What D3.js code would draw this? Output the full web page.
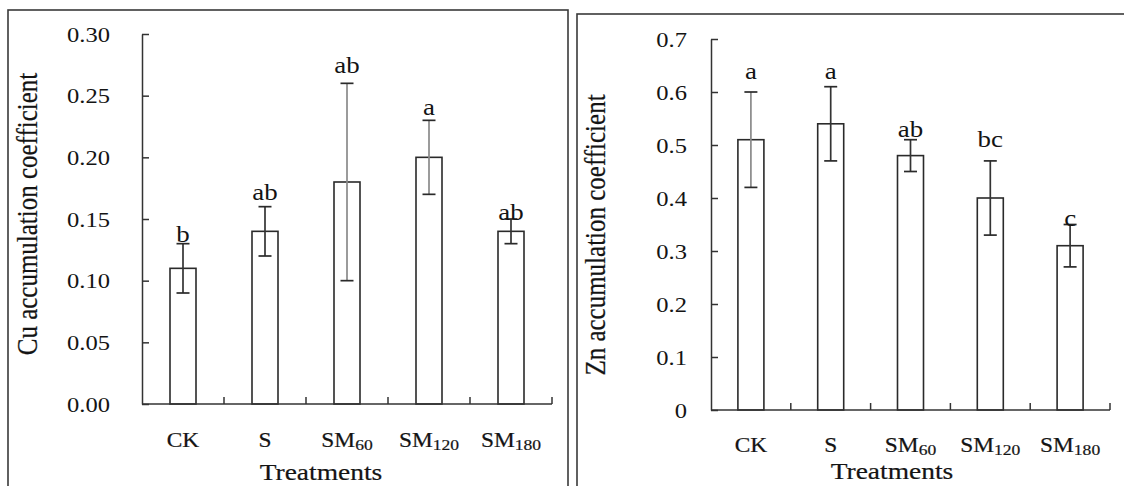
<!DOCTYPE html>
<html>
<head>
<meta charset="utf-8">
<script src="https://cdn.jsdelivr.net/npm/d3@7"></script>
<style>
  html, body { margin: 0; padding: 0; background: #fff; }
  svg { display: block; }
  text { font-family: "Liberation Serif", "Times New Roman", serif; fill: #141414; }
  .heavy { stroke: #141414; stroke-width: 0.2px; }
</style>
</head>
<body>
<svg id="chart" width="1124" height="486"></svg>
<script>
// ---------------- data ----------------
const categories = ["CK", "S", "SM60", "SM120", "SM180"];

const cuMeans   = [0.11, 0.14, 0.18, 0.20, 0.14];
const cuErrLow  = [0.09, 0.12, 0.10, 0.17, 0.13];
const cuErrHigh = [0.13, 0.16, 0.26, 0.23, 0.15];
const cuLetters = ["b", "ab", "ab", "a", "ab"];
const cuTicks   = [0, 0.05, 0.10, 0.15, 0.20, 0.25, 0.30];

const znMeans   = [0.51, 0.54, 0.48, 0.40, 0.31];
const znErrLow  = [0.42, 0.47, 0.45, 0.33, 0.27];
const znErrHigh = [0.60, 0.61, 0.51, 0.47, 0.35];
const znLetters = ["a", "a", "ab", "bc", "c"];
const znTicks   = [0, 0.1, 0.2, 0.3, 0.4, 0.5, 0.6, 0.7];

// ---------------- layout / style ----------------
const SX = 1.17; // horizontal text stretch of the original picture
const svg = d3.select("#chart");

const panels = [
  {
    frame: {x: 8, y: 10, w: 560, h: 520},
    plot: {left: 142, right: 552, top: 34, bottom: 404},
    domain: [0, 0.30], ticks: cuTicks, fmt: d3.format(".2f"), tickPad: 32,
    means: cuMeans, lo: cuErrLow, hi: cuErrHigh, letters: cuLetters,
    errColors: ["#333", "#333", "#8a8a8a", "#8a8a8a", "#333"],
    letterGap: [2, 7, 10, 5, -1],
    catBaseline: 447,
    yTitle: "Cu accumulation coefficient", yTitleX: 37, yTitleY: 214,
    xTitleX: 321, xTitleY: 480
  },
  {
    frame: {x: 577, y: 14, w: 600, h: 520},
    plot: {left: 711, right: 1110, top: 39, bottom: 410},
    domain: [0, 0.7], ticks: znTicks, fmt: d => d === 0 ? "0" : d3.format(".1f")(d), tickPad: 24,
    means: znMeans, lo: znErrLow, hi: znErrHigh, letters: znLetters,
    errColors: ["#8a8a8a", "#333", "#333", "#333", "#333"],
    letterGap: [13, 8, 3, 14, -1],
    catBaseline: 452,
    yTitle: "Zn accumulation coefficient", yTitleX: 605, yTitleY: 235,
    xTitleX: 892, xTitleY: 479
  }
];

function stretchedText(g, x, y, str, size, anchor, cls) {
  return g.append("text")
    .attr("class", cls || null)
    .attr("transform", `translate(${x},${y}) scale(${SX},1)`)
    .attr("text-anchor", anchor || "middle")
    .style("font-size", size + "px")
    .text(str);
}

panels.forEach(p => {
  const g = svg.append("g");

  // frame
  g.append("rect")
    .attr("x", p.frame.x).attr("y", p.frame.y)
    .attr("width", p.frame.w).attr("height", p.frame.h)
    .attr("fill", "none").attr("stroke", "#3a3a3a").attr("stroke-width", 1.6);

  const x = d3.scaleBand().domain(categories)
    .range([p.plot.left, p.plot.right]).paddingInner(0).paddingOuter(0);
  const y = d3.scaleLinear().domain(p.domain).range([p.plot.bottom, p.plot.top]);

  // y axis
  const yAxis = d3.axisLeft(y).tickValues(p.ticks).tickFormat(p.fmt)
    .tickSizeInner(-7).tickSizeOuter(0).tickPadding(p.tickPad);
  const ya = g.append("g").attr("transform", `translate(${p.plot.left},0)`).call(yAxis);
  ya.select(".domain").attr("stroke", "#333").attr("stroke-width", 1.5);
  ya.selectAll(".tick line").attr("stroke", "#333").attr("stroke-width", 1.5);
  ya.selectAll(".tick text")
    .attr("x", null).attr("dy", "0.34em")
    .attr("transform", `translate(${-p.tickPad},0) scale(${SX},1)`)
    .attr("font-family", null).attr("font-size", null)
    .style("font-size", "21px").attr("fill", "#141414");

  // bars
  const bw = 26;
  g.selectAll("rect.bar").data(categories).join("rect")
    .attr("class", "bar")
    .attr("x", (c) => x(c) + x.bandwidth() / 2 - bw / 2)
    .attr("width", bw)
    .attr("y", (c, i) => y(p.means[i]))
    .attr("height", (c, i) => y(0) - y(p.means[i]))
    .attr("fill", "#fff").attr("stroke", "#2a2a2a").attr("stroke-width", 1.6);

  // x axis line + boundary ticks (pointing up)
  g.append("line")
    .attr("x1", p.plot.left).attr("x2", p.plot.right)
    .attr("y1", y(0)).attr("y2", y(0))
    .attr("stroke", "#333").attr("stroke-width", 1.5);
  g.selectAll("line.xt").data(categories).join("line")
    .attr("class", "xt")
    .attr("x1", c => x(c) + x.step()).attr("x2", c => x(c) + x.step())
    .attr("y1", y(0)).attr("y2", y(0) - 7)
    .attr("stroke", "#333").attr("stroke-width", 1.5);

  // error bars
  const cap = 13;
  categories.forEach((c, i) => {
    const cx = x(c) + x.bandwidth() / 2;
    const col = p.errColors[i];
    const eg = g.append("g").attr("stroke", col).attr("stroke-width", 1.7);
    eg.append("line").attr("x1", cx).attr("x2", cx)
      .attr("y1", y(p.lo[i])).attr("y2", y(p.hi[i]));
    eg.append("line").attr("stroke", "#2a2a2a").attr("x1", cx - cap / 2).attr("x2", cx + cap / 2)
      .attr("y1", y(p.hi[i])).attr("y2", y(p.hi[i]));
    eg.append("line").attr("stroke", "#2a2a2a").attr("x1", cx - cap / 2).attr("x2", cx + cap / 2)
      .attr("y1", y(p.lo[i])).attr("y2", y(p.lo[i]));

    // significance letters
    stretchedText(g, cx, y(p.hi[i]) - p.letterGap[i], p.letters[i], 23, "middle");

    // category labels with subscripts
    const m = c.match(/^([A-Z]+)(\d*)$/);
    const t = g.append("text")
      .attr("class", "heavy")
      .attr("transform", `translate(${cx},${p.catBaseline}) scale(${SX},1)`)
      .attr("text-anchor", "middle")
      .style("font-size", "20px");
    t.append("tspan").text(m[1]);
    if (m[2]) {
      t.append("tspan").attr("dy", 3).style("font-size", "15px").text(m[2]);
    }
  });

  // axis titles
  g.append("text")
    .attr("class", "heavy")
    .attr("transform", `translate(${p.yTitleX},${p.yTitleY}) rotate(-90) scale(1,${SX})`)
    .attr("text-anchor", "middle")
    .style("font-size", "25px")
    .text(p.yTitle);
  stretchedText(g, p.xTitleX, p.xTitleY, "Treatments", 23.5, "middle", "heavy");
});
</script>
</body>
</html>
